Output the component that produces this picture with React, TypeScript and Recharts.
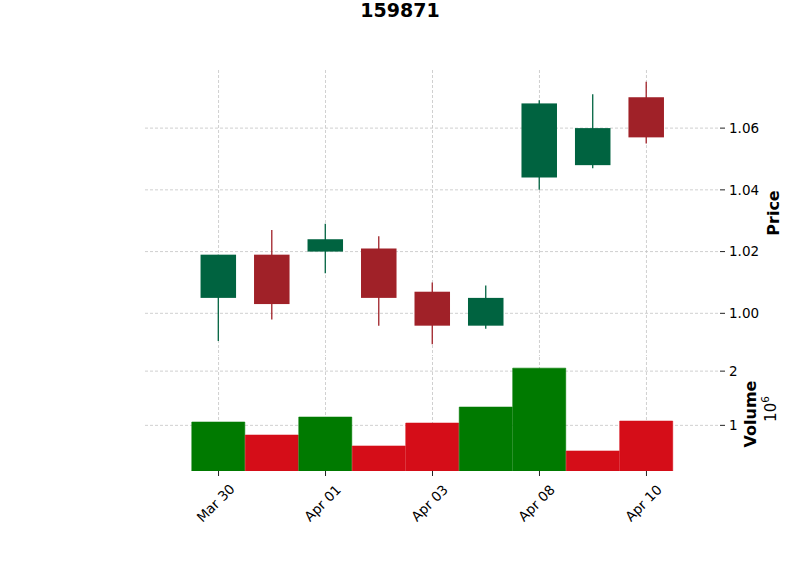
import React from 'react';
import { ComposedChart, Bar, Cell, XAxis, YAxis, CartesianGrid } from 'recharts';

// 159871 daily candles, Mar 30 - Apr 10
const dates = ['Mar 30', 'Mar 31', 'Apr 01', 'Apr 02', 'Apr 03', 'Apr 07', 'Apr 08', 'Apr 09', 'Apr 10'];
const opens = [1.005, 1.019, 1.02, 1.021, 1.007, 0.996, 1.044, 1.048, 1.07];
const highs = [1.019, 1.027, 1.029, 1.025, 1.01, 1.009, 1.069, 1.071, 1.075];
const lows = [0.991, 0.998, 1.013, 0.996, 0.99, 0.995, 1.04, 1.047, 1.055];
const closes = [1.019, 1.003, 1.024, 1.005, 0.996, 1.005, 1.068, 1.06, 1.057];
const volumes = [1061000, 821000, 1153000, 619000, 1042000, 1337000, 2055000, 527000, 1079000];

const priceTicks = [1.0, 1.02, 1.04, 1.06];
const volumeTicks = [1000000, 2000000];

const UP = '#006340';
const DOWN = '#a02128';
const VOL_UP = '#007a00';
const VOL_DOWN = '#d50d18';
const FONT = 'DejaVu Sans, sans-serif';

const rows = dates.map((date, i) => ({
  date,
  open: opens[i],
  high: highs[i],
  low: lows[i],
  close: closes[i],
  volume: volumes[i],
}));

const lo = Math.min(...lows);
const hi = Math.max(...highs);
const pad = (hi - lo) * 0.045;
const priceDomain = [lo - pad, hi + pad];
const volDomain = [Math.min(...volumes) * 0.3, Math.max(...volumes) * 1.1];

const Candle = (props: any) => {
  const { x, y, width, height, payload } = props;
  const { open, close, high, low } = payload;
  const ppu = height / (high - low);
  const top = y + (high - Math.max(open, close)) * ppu;
  const bot = y + (high - Math.min(open, close)) * ppu;
  const cx = x + width / 2;
  const bw = width * 0.67;
  const color = close >= open ? UP : DOWN;
  return (
    <g>
      <line x1={cx} x2={cx} y1={y} y2={y + height} stroke={color} strokeWidth={1.3} />
      <rect x={cx - bw / 2} y={top} width={bw} height={Math.max(bot - top, 1)} fill={color} />
    </g>
  );
};

const DateTick = (props: any) => {
  const { x, y, payload } = props;
  const cx = x - 3;
  const cy = y + 25;
  return (
    <text
      x={cx}
      y={cy}
      dy="0.36em"
      transform={`rotate(-45, ${cx}, ${cy})`}
      textAnchor="middle"
      fontSize={13.5}
      fontFamily={FONT}
      fill="#000"
    >
      {payload.value}
    </text>
  );
};

const NoTick = () => <g />;

const gridProps = { stroke: '#c4c4c4', strokeDasharray: '3 2', strokeWidth: 0.8, syncWithTicks: true };
const xPad = { left: 46.8, right: 46.8 };
const tickStyle = { fontSize: 13.5, fontFamily: FONT, fill: '#000' };

export default function App() {
  return (
    <div style={{ position: 'absolute', left: 0, top: 0, width: 800, height: 575, background: '#fff' }}>
      <div style={{ position: 'absolute', left: 0, top: 0 }}>
        <ComposedChart width={800} height={360} data={rows} barCategoryGap={0} margin={{ top: 70, right: 0, bottom: 4, left: 145 }}>
          <CartesianGrid {...gridProps} />
          <XAxis dataKey="date" interval={1} padding={xPad} height={0} tick={<NoTick />} tickLine={false} axisLine={false} />
          <YAxis
            orientation="right"
            width={80}
            domain={priceDomain}
            ticks={priceTicks}
            allowDataOverflow
            tickFormatter={(v: number) => v.toFixed(2)}
            tick={tickStyle}
            tickSize={5}
            tickMargin={4}
            tickLine={{ stroke: '#222' }}
            axisLine={false}
          />
          <Bar dataKey={(d: any) => [d.low, d.high]} shape={Candle} isAnimationActive={false} />
        </ComposedChart>
      </div>
      <div style={{ position: 'absolute', left: 0, top: 340 }}>
        <ComposedChart width={800} height={235} data={rows} barCategoryGap={0} margin={{ top: 17, right: 0, bottom: 44, left: 145 }}>
          <CartesianGrid {...gridProps} />
          <XAxis
            dataKey="date"
            interval={1}
            padding={xPad}
            height={60}
            tick={<DateTick />}
            tickSize={5}
            tickLine={{ stroke: '#222' }}
            axisLine={false}
          />
          <YAxis
            orientation="right"
            width={80}
            domain={volDomain}
            ticks={volumeTicks}
            allowDataOverflow
            tickFormatter={(v: number) => String(v / 1000000)}
            tick={tickStyle}
            tickSize={5}
            tickMargin={4}
            tickLine={{ stroke: '#222' }}
            axisLine={false}
          />
          <Bar dataKey="volume" isAnimationActive={false}>
            {rows.map((r, i) => {
              const c = i > 0 && r.close < rows[i - 1].close ? VOL_DOWN : VOL_UP;
              return <Cell key={r.date} fill={c} stroke={c} strokeWidth={0.6} />;
            })}
          </Bar>
        </ComposedChart>
      </div>
      <svg width={800} height={575} style={{ position: 'absolute', left: 0, top: 0, pointerEvents: 'none' }}>
        <text x={400} y={17} textAnchor="middle" fontSize={19} fontWeight="bold" fontFamily={FONT} fill="#000">
          159871
        </text>
        <text
          x={773}
          y={213}
          transform="rotate(-90, 773, 213)"
          textAnchor="middle"
          dominantBaseline="central"
          fontSize={16}
          fontWeight="bold"
          fontFamily={FONT}
          fill="#000"
        >
          Price
        </text>
        <text
          x={750}
          y={414}
          transform="rotate(-90, 750, 414)"
          textAnchor="middle"
          dominantBaseline="central"
          fontSize={16}
          fontWeight="bold"
          fontFamily={FONT}
          fill="#000"
        >
          Volume
        </text>
        <text
          x={771}
          y={409}
          transform="rotate(-90, 771, 409)"
          textAnchor="middle"
          dominantBaseline="central"
          fontSize={15}
          fontFamily={FONT}
          fill="#000"
        >
          10<tspan fontSize={10.5} dy={-6}>6</tspan>
        </text>
      </svg>
    </div>
  );
}
